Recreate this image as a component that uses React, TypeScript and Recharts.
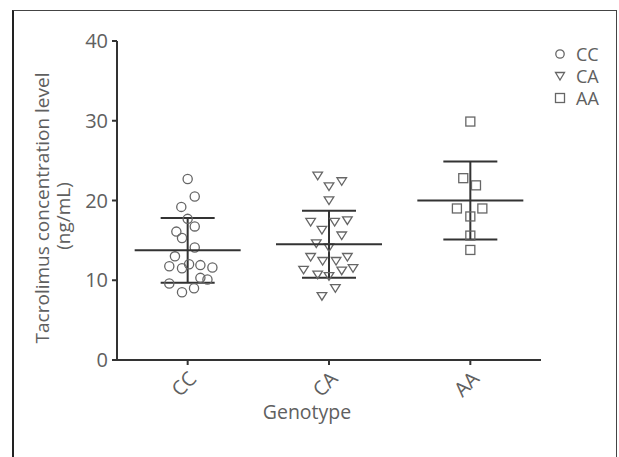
import React from 'react';
import { ScatterChart, Scatter, XAxis, YAxis, ErrorBar, Legend } from 'recharts';

const genotypes = ['CC', 'CA', 'AA'];
const yTicks = [0, 10, 20, 30, 40];

const ccValues = [22.7, 20.5, 19.2, 17.7, 16.75, 16.1, 15.3, 14.1, 13.0, 11.75, 11.5, 12.0, 11.9, 11.6, 10.3, 10.1, 9.6, 9.0, 8.5];
const ccJitter = [0.0, 0.05, -0.045, 0.0, 0.05, -0.08, -0.04, 0.05, -0.09, -0.13, -0.04, 0.01, 0.09, 0.175, 0.09, 0.14, -0.13, 0.045, -0.04];

const caValues = [23.1, 21.75, 22.4, 20.0, 17.3, 16.3, 17.3, 17.5, 15.6, 14.6, 14.1, 12.9, 12.4, 12.4, 12.9, 11.3, 10.7, 10.5, 11.2, 11.5, 9.0, 8.0];
const caJitter = [-0.08, 0.0, 0.09, 0.0, -0.13, -0.05, 0.04, 0.13, 0.09, -0.09, 0.0, -0.13, -0.045, 0.05, 0.13, -0.18, -0.08, 0.0, 0.09, 0.17, 0.045, -0.05];

const aaValues = [29.9, 22.8, 21.9, 19.0, 19.0, 18.0, 15.6, 13.8];
const aaJitter = [0.0, -0.05, 0.04, -0.095, 0.085, 0.0, 0.0, 0.0];

const groupMeans = [13.75, 14.5, 20.0];
const groupSD = [4.05, 4.2, 4.9];

const FONT = "'Open Sans', Lato, sans-serif";
const TEXT = '#606060';
const DARK = '#333';
const MARK = '#666';

const toPoints = (vals: number[], jit: number[], gi: number) =>
  vals.map((v, i) => ({ x: gi + 0.5 + jit[i], y: v }));

const ccData = toPoints(ccValues, ccJitter, 0);
const caData = toPoints(caValues, caJitter, 1);
const aaData = toPoints(aaValues, aaJitter, 2);
const meanData = groupMeans.map((m, i) => ({ x: i + 0.5, y: m, err: groupSD[i] }));

const CircleShape = (p: any) => (
  <circle cx={p.cx} cy={p.cy} r={4.6} fill="none" stroke={MARK} strokeWidth={1.3} />
);
const TriShape = (p: any) => (
  <polygon
    points={`${p.cx - 4.8},${p.cy - 3.6} ${p.cx + 4.8},${p.cy - 3.6} ${p.cx},${p.cy + 4}`}
    fill="none"
    stroke={MARK}
    strokeWidth={1.3}
  />
);
const SquareShape = (p: any) => (
  <rect x={p.cx - 4.5} y={p.cy - 4.5} width={9} height={9} fill="none" stroke={MARK} strokeWidth={1.3} />
);
const MeanShape = (p: any) => (
  <line x1={p.cx - 53} x2={p.cx + 53} y1={p.cy} y2={p.cy} stroke={DARK} strokeWidth={2} />
);

const XTick = (p: any) => {
  const label = genotypes[Math.round(p.payload.value - 0.5)];
  return (
    <g transform={`translate(${p.x},${p.y + 3})`}>
      <text
        x={0}
        y={0}
        dy="0.71em"
        transform="rotate(-45)"
        textAnchor="end"
        fill={TEXT}
        fontSize={20}
        fontFamily={FONT}
      >
        {label}
      </text>
    </g>
  );
};

const YLabel = () => (
  <g>
    <text
      transform="translate(42,208) rotate(-90)"
      textAnchor="middle"
      dominantBaseline="central"
      fill={TEXT}
      fontSize={19}
      fontFamily={FONT}
    >
      Tacrolimus concentration level
    </text>
    <text
      transform="translate(63,216) rotate(-90)"
      textAnchor="middle"
      dominantBaseline="central"
      fill={TEXT}
      fontSize={19}
      fontFamily={FONT}
    >
      (ng/mL)
    </text>
  </g>
);

const XLabel = (p: any) => {
  const vb = p.viewBox || {};
  return (
    <text
      x={vb.x + 190}
      y={419}
      textAnchor="middle"
      fill={TEXT}
      fontSize={19.5}
      fontFamily={FONT}
    >
      Genotype
    </text>
  );
};

const legendIcons: Record<string, React.ReactNode> = {
  CC: <circle cx={7} cy={7} r={4.2} fill="none" stroke={MARK} strokeWidth={1.3} />,
  CA: <polygon points="2.5,3.5 11.5,3.5 7,11" fill="none" stroke={MARK} strokeWidth={1.3} />,
  AA: <rect x={2.5} y={2.5} width={9} height={9} fill="none" stroke={MARK} strokeWidth={1.3} />,
};

const LegendContent = (props: any) => {
  const names = (props.payload || []).map((e: any) => e.value);
  const items = genotypes.filter((g) => names.includes(g));
  return (
    <div style={{ fontFamily: FONT, fontSize: 18, color: TEXT }}>
      {items.map((g) => (
        <div key={g} style={{ display: 'flex', alignItems: 'center', height: 22 }}>
          <svg width={14} height={14} style={{ marginRight: 9 }}>
            {legendIcons[g]}
          </svg>
          <span style={{ lineHeight: '22px' }}>{g}</span>
        </div>
      ))}
    </div>
  );
};

export default function App() {
  return (
    <div style={{ position: 'absolute', left: 0, top: 0, width: 619, height: 457, background: '#fff' }}>
      <div
        style={{
          position: 'absolute',
          left: 12,
          top: 10,
          width: 602,
          height: 460,
          borderLeft: '2px solid #222',
          borderTop: '1.5px solid #444',
          borderRight: '1.5px solid #444',
        }}
      />
      <div style={{ position: 'absolute', left: 0, top: 0 }}>
        <ScatterChart width={619} height={457} margin={{ top: 41, right: 18, bottom: 37, left: 0 }}>
          <XAxis
            type="number"
            dataKey="x"
            domain={[0, 3]}
            ticks={[0.5, 1.5, 2.5]}
            interval={0}
            height={60}
            stroke={DARK}
            strokeWidth={2}
            tickSize={5}
            tick={<XTick />}
            label={<XLabel />}
          />
          <YAxis
            type="number"
            dataKey="y"
            domain={[0, 40]}
            ticks={yTicks}
            width={117}
            stroke={DARK}
            strokeWidth={2}
            tickSize={5}
            tickMargin={4}
            tick={{ fill: TEXT, fontSize: 20, fontFamily: FONT }}
            label={<YLabel />}
          />
          <Legend
            layout="vertical"
            align="right"
            verticalAlign="top"
            content={<LegendContent />}
            wrapperStyle={{ position: 'absolute', left: 553, top: 43, width: 60 }}
          />
          <Scatter name="CC" data={ccData} shape={<CircleShape />} fill={MARK} isAnimationActive={false} />
          <Scatter name="CA" data={caData} shape={<TriShape />} fill={MARK} isAnimationActive={false} />
          <Scatter name="AA" data={aaData} shape={<SquareShape />} fill={MARK} isAnimationActive={false} />
          <Scatter name="mean" data={meanData} shape={<MeanShape />} legendType="none" isAnimationActive={false}>
            <ErrorBar dataKey="err" direction="y" width={27} stroke={DARK} strokeWidth={2} />
          </Scatter>
        </ScatterChart>
      </div>
    </div>
  );
}
